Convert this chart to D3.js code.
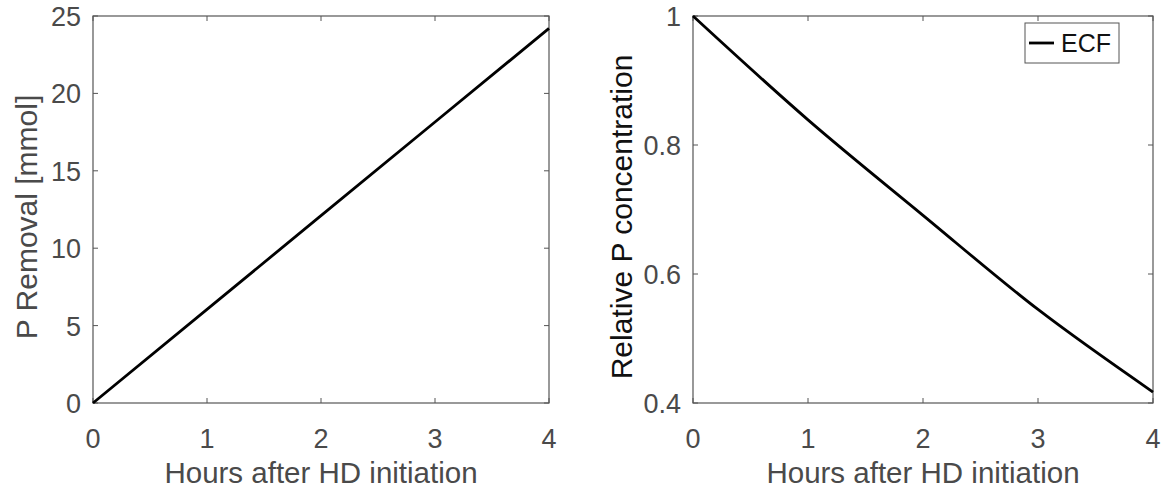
<!DOCTYPE html>
<html><head><meta charset="utf-8">
<script src="https://cdn.jsdelivr.net/npm/d3@7"></script>
<style>body{margin:0;background:#fff}svg{display:block}text{font-family:"Liberation Sans",Arial,sans-serif}</style>
</head><body><svg id="c" width="1164" height="492"></svg>
<script>
const hours = [0, 1, 2, 3, 4];
const removal = [0, 6.05, 12.1, 18.15, 24.2];
const relConc = [1, 0.839, 0.691, 0.545, 0.417];
const xTicks = [0, 1, 2, 3, 4];
const yTicksLeft = [0, 5, 10, 15, 20, 25];
const yTicksRight = [0.4, 0.6, 0.8, 1];
const seriesName = "ECF";

const svg = d3.select("#c");
const axisCol = "#555", textCol = "#4a4a4a";
const plotTop = 16, plotBottom = 403;

function panel(x0, x1, yDomain, yTicks, yFmt, xs, ys, ylabel, ylabX, ylabCol, curve) {
  const g = svg.append("g");
  const x = d3.scaleLinear().domain([0, 4]).range([x0, x1]);
  const y = d3.scaleLinear().domain(yDomain).range([plotBottom, plotTop]);
  g.append("rect").attr("x", x0).attr("y", plotTop).attr("width", x1 - x0).attr("height", plotBottom - plotTop)
    .attr("fill", "none").attr("stroke", axisCol).attr("stroke-width", 1.2);
  const tl = 5;
  xTicks.forEach(t => {
    g.append("line").attr("x1", x(t)).attr("x2", x(t)).attr("y1", plotBottom).attr("y2", plotBottom - tl).attr("stroke", axisCol);
    g.append("line").attr("x1", x(t)).attr("x2", x(t)).attr("y1", plotTop).attr("y2", plotTop + tl).attr("stroke", axisCol);
    g.append("text").attr("x", x(t)).attr("y", 448).attr("text-anchor", "middle")
      .attr("font-size", 27).attr("fill", textCol).text(t);
  });
  yTicks.forEach(t => {
    g.append("line").attr("x1", x0).attr("x2", x0 + tl).attr("y1", y(t)).attr("y2", y(t)).attr("stroke", axisCol);
    g.append("line").attr("x1", x1).attr("x2", x1 - tl).attr("y1", y(t)).attr("y2", y(t)).attr("stroke", axisCol);
    g.append("text").attr("x", x0 - 12).attr("y", y(t) + 10).attr("text-anchor", "end")
      .attr("font-size", 27).attr("fill", textCol).text(yFmt(t));
  });
  g.append("text").attr("x", (x0 + x1) / 2).attr("y", 483).attr("text-anchor", "middle")
    .attr("font-size", 29.5).attr("fill", textCol).text("Hours after HD initiation");
  g.append("text").attr("transform", `translate(${ylabX},217) rotate(-90)`).attr("text-anchor", "middle")
    .attr("font-size", 30).attr("fill", ylabCol).text(ylabel);
  const line = d3.line().curve(curve).x((d, i) => x(xs[i])).y((d, i) => y(ys[i]));
  g.append("path").attr("d", line(xs)).attr("fill", "none").attr("stroke", "#000").attr("stroke-width", 2.8);
  return {x, y};
}

panel(93, 549, [0, 25], yTicksLeft, d => d, hours, removal, "P Removal [mmol]", 37, textCol, d3.curveLinear);
panel(693, 1153, [0.4, 1], yTicksRight, d => d === 1 ? "1" : d.toFixed(1), hours, relConc, "Relative P concentration", 632, "#111", d3.curveMonotoneX);

// legend
const lg = svg.append("g");
lg.append("rect").attr("x", 1025).attr("y", 23).attr("width", 94).attr("height", 40)
  .attr("fill", "#fff").attr("stroke", axisCol).attr("stroke-width", 1);
lg.append("line").attr("x1", 1029).attr("x2", 1054).attr("y1", 43).attr("y2", 43).attr("stroke", "#000").attr("stroke-width", 2.8);
lg.append("text").attr("x", 1061).attr("y", 52).attr("font-size", 25).attr("fill", "#111").text(seriesName);
</script></body></html>
